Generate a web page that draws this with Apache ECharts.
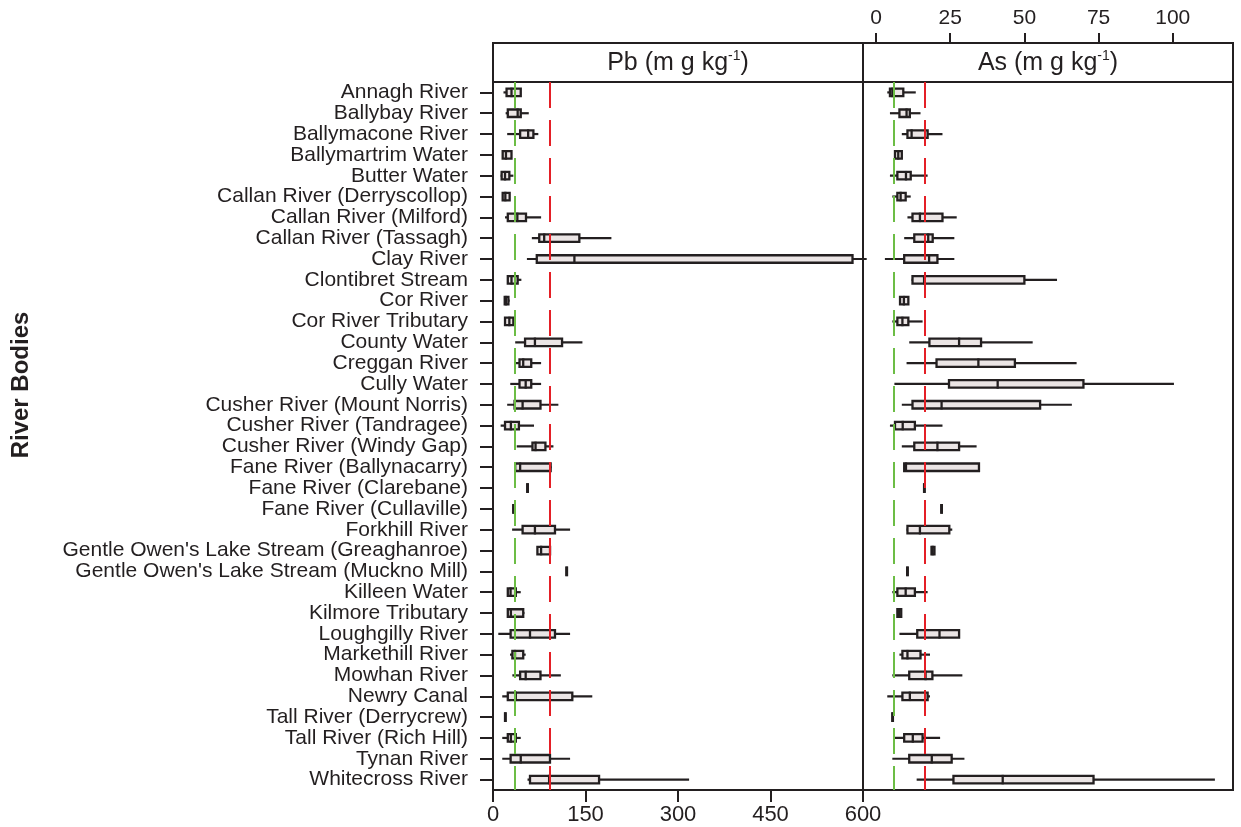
<!DOCTYPE html>
<html>
<head>
<meta charset="utf-8">
<script src="https://cdn.jsdelivr.net/npm/echarts@6/dist/echarts.min.js"></script>
<style>
	html, body { margin: 0; padding: 0; background: #fff; }
	#chart { width: 1241px; height: 827px; }
</style>
</head>
<body>
<div id="chart"></div>
<script>
var rivers = [
	'Annagh River', 'Ballybay River', 'Ballymacone River', 'Ballymartrim Water', 'Butter Water',
	'Callan River (Derryscollop)', 'Callan River (Milford)', 'Callan River (Tassagh)', 'Clay River',
	'Clontibret Stream', 'Cor River', 'Cor River Tributary', 'County Water', 'Creggan River',
	'Cully Water', 'Cusher River (Mount Norris)', 'Cusher River (Tandragee)', 'Cusher River (Windy Gap)',
	'Fane River (Ballynacarry)', 'Fane River (Clarebane)', 'Fane River (Cullaville)', 'Forkhill River',
	"Gentle Owen's Lake Stream (Greaghanroe)", "Gentle Owen's Lake Stream (Muckno Mill)",
	'Killeen Water', 'Kilmore Tributary', 'Loughgilly River', 'Markethill River', 'Mowhan River',
	'Newry Canal', 'Tall River (Derrycrew)', 'Tall River (Rich Hill)', 'Tynan River', 'Whitecross River'
];

// [min, Q1, median, Q3, max] in mg/kg
var pbStats = [
	[17, 22, 30, 45, 45], [20.5, 24, 40, 45, 58], [23, 44, 57, 65.5, 73.5], [15.5, 15.7, 21, 30, 30],
	[12.4, 14, 19.5, 26.5, 33], [15.7, 15.7, 20, 27, 27.6], [19.5, 24, 39.5, 53.5, 78], [63, 75, 83, 140, 192],
	[55, 71, 132, 583, 606], [23, 24, 30, 40, 46], [18, 19, 21, 25, 27], [19.5, 19.5, 26.5, 33, 37],
	[36, 52, 68, 112, 145], [35, 43, 49, 62, 78], [28, 43, 53, 62, 78], [23, 35, 48, 77, 106],
	[12.4, 19.5, 29, 42, 66.5], [38.5, 64, 69, 85, 98], [36, 36, 44, 93.5, 95], [55, 55.5, 56, 56.5, 57],
	[32.5, 33, 33, 33.5, 34], [31, 48, 68, 100.5, 125], [72, 72, 78, 92.5, 94], [119, 119, 119.5, 120, 120],
	[24, 24, 28.5, 37, 45], [24, 24, 29, 49, 51], [8.6, 28.6, 60, 100.5, 125], [27.6, 31.4, 35.7, 49, 53],
	[31.4, 44, 53, 77, 110], [15, 24, 37, 128.6, 161], [19, 19.5, 20, 20.5, 21], [15, 24, 29, 37, 45],
	[15, 28.6, 45, 92.4, 125], [56, 60, 91, 172, 318]
];
var asStats = [
	[3.8, 4.7, 5.5, 9.2, 13.4], [4.7, 7.9, 10.3, 11.4, 15], [8.7, 10.6, 12, 17.4, 22.4], [6.4, 6.4, 7.5, 8.7, 8.7],
	[4.7, 7.2, 10.1, 11.7, 17.4], [5.5, 7.2, 8.3, 10, 11.7], [10.6, 12.3, 14.8, 22.4, 27.2], [9.5, 12.9, 17.6, 19.1, 26.4],
	[3, 9.5, 17.9, 20.7, 26.4], [12, 12.3, 16.2, 50, 61], [8.1, 8.1, 9.4, 10.9, 10.9], [5.5, 7.2, 8.9, 10.9, 15.7],
	[11.2, 18, 28, 35.4, 52.8], [10.3, 20.4, 34.5, 46.8, 67.6], [6.2, 24.6, 41, 69.9, 100.4], [8.7, 12.3, 22.1, 55.3, 66],
	[4.7, 6.4, 9, 13.1, 22.4], [8.7, 12.9, 20.7, 28, 33.9], [9.5, 9.5, 10.1, 34.7, 35], [16.1, 16.2, 16.3, 16.4, 16.5],
	[22, 22, 22.1, 22.2, 22.3], [10.3, 10.6, 14.8, 24.7, 25.7], [18.6, 18.7, 19.1, 19.7, 19.8], [10.5, 10.5, 10.6, 10.7, 10.7],
	[5.5, 7.2, 10, 13.1, 17.4], [7.2, 7.2, 7.8, 8.5, 8.7], [7.9, 13.9, 21.4, 28, 28.3], [7.9, 8.9, 10.6, 15, 18.2],
	[5.5, 11.2, 16.7, 19, 29.1], [3.8, 8.9, 11.4, 17.4, 18.2], [5.5, 5.5, 5.6, 5.7, 5.7], [6.2, 9.5, 12.4, 15.7, 21.6],
	[5.5, 11.2, 18.8, 25.5, 29.8], [13.7, 26.1, 42.7, 73.3, 114.2]
];

// guideline lines (TEL green, PEL red)
var pbGuide = [35.8, 91.3];
var asGuide = [5.9, 16.4];
var asTicks = [0, 25, 50, 75, 100];

var ink = '#231f20';
var font = "'Liberation Sans', Arial, Helvetica, sans-serif";

function toRows(stats) {
	return stats.map(function (s, i) { return [i].concat(s); });
}

function drawBox(params, api) {
	var cat = api.value(0);
	var p = [1, 2, 3, 4, 5].map(function (d) { return api.coord([api.value(d), cat]); });
	var yc = p[0][1], h = 7.5;
	return {
		type: 'group',
		children: [
			{ type: 'line', shape: { x1: p[0][0], y1: yc, x2: p[4][0], y2: yc }, style: { stroke: ink, lineWidth: 2.2 } },
			{ type: 'rect', shape: { x: p[1][0], y: yc - h / 2, width: p[3][0] - p[1][0], height: h }, style: { fill: '#ebe5e5', stroke: ink, lineWidth: 2.3 } },
			{ type: 'line', shape: { x1: p[2][0], y1: yc - h / 2 - 1, x2: p[2][0], y2: yc + h / 2 + 1 }, style: { stroke: ink, lineWidth: 2.3 } }
		]
	};
}

function guideLines(vals) {
	return {
		silent: true,
		symbol: 'none',
		label: { show: false },
		animation: false,
		data: [
			{ xAxis: vals[0], lineStyle: { color: '#6cbd45', width: 2, type: [26, 12] } },
			{ xAxis: vals[1], lineStyle: { color: '#e41f26', width: 2, type: [26, 12] } }
		]
	};
}

function stripTitle(el, cx) {
	return {
		type: 'text',
		x: cx, y: 63,
		style: {
			text: el + ' (m g kg{sup|-1})',
			font: '25px ' + font,
			fill: ink,
			align: 'center',
			verticalAlign: 'middle',
			rich: { sup: { fontSize: 14, fontFamily: font, padding: [0, 0, 13, 0], fill: ink } }
		}
	};
}

var chart = echarts.init(document.getElementById('chart'));

chart.setOption({
	animation: false,
	backgroundColor: '#fff',
	textStyle: { fontFamily: font },
	grid: [
		{ left: 493, width: 370, top: 82, bottom: 37, show: true, borderColor: ink, borderWidth: 2 },
		{ left: 863, width: 370, top: 82, bottom: 37, show: true, borderColor: ink, borderWidth: 2 }
	],
	xAxis: [
		{
			gridIndex: 0, type: 'value', min: 0, max: 600, interval: 150, position: 'bottom',
			splitLine: { show: false },
			axisLine: { show: true, lineStyle: { color: ink, width: 2 } },
			axisTick: { show: true, length: 12, lineStyle: { color: ink, width: 2 } },
			axisLabel: { fontSize: 22, color: ink, margin: 14 }
		},
		{
			gridIndex: 1, type: 'value', min: -4.38, max: 120.3, position: 'top', offset: 39,
			splitLine: { show: false },
			axisLine: { show: true, lineStyle: { color: ink, width: 2 } },
			axisTick: { show: true, length: 10, lineStyle: { color: ink, width: 2 }, customValues: asTicks },
			axisLabel: { fontSize: 21, color: ink, margin: 14, customValues: asTicks }
		}
	],
	yAxis: [
		{
			gridIndex: 0, type: 'category', data: rivers, inverse: true,
			axisLine: { show: true, lineStyle: { color: ink, width: 2 } },
			axisTick: { show: true, length: 13, alignWithLabel: true, lineStyle: { color: ink, width: 2 } },
			axisLabel: { fontSize: 21, color: ink, margin: 25, interval: 0 }
		},
		{
			gridIndex: 1, type: 'category', data: rivers, inverse: true, show: false
		}
	],
	graphic: [
		{ type: 'rect', shape: { x: 493, y: 43, width: 370, height: 39 }, style: { fill: '#fff', stroke: ink, lineWidth: 2 } },
		{ type: 'rect', shape: { x: 863, y: 43, width: 370, height: 39 }, style: { fill: '#fff', stroke: ink, lineWidth: 2 } },
		stripTitle('Pb', 678),
		stripTitle('As', 1048),
		{
			type: 'text', x: 21, y: 385, rotation: Math.PI / 2,
			style: { text: 'River Bodies', font: 'bold 24px ' + font, fill: ink, align: 'center', verticalAlign: 'middle' }
		}
	],
	series: [
		{
			type: 'custom', name: 'Pb', xAxisIndex: 0, yAxisIndex: 0,
			renderItem: drawBox, encode: { x: [1, 2, 3, 4, 5], y: 0 },
			data: toRows(pbStats), z: 3,
			markLine: guideLines(pbGuide)
		},
		{
			type: 'custom', name: 'As', xAxisIndex: 1, yAxisIndex: 1,
			renderItem: drawBox, encode: { x: [1, 2, 3, 4, 5], y: 0 },
			data: toRows(asStats), z: 3,
			markLine: guideLines(asGuide)
		}
	]
});
</script>
</body>
</html>
